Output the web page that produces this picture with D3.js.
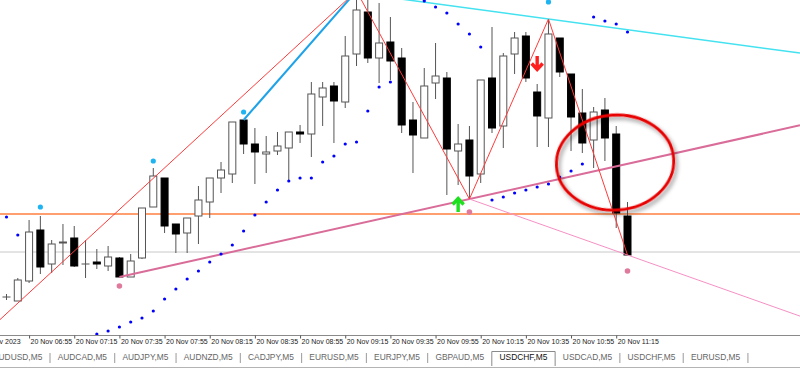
<!doctype html>
<html lang="en">
<head>
<meta charset="utf-8">
<title>USDCHF,M5</title>
<script src="https://d3js.org/d3.v7.min.js"></script>
<style>
  body { margin: 0; background: #fff; }
  svg { display: block; font-family: "Liberation Sans", Arial, sans-serif; }
</style>
</head>
<body>
<svg width="800" height="370"></svg>
<script>
// USDCHF M5 bars, 20 Nov 2023 06:45 .. 11:20
var opens = [.88403, .88399, .88419, .88470, .88436, .88457, .88462, .88436, .88438, .88434,
  .88442, .88423, .88442, .88493, .88522, .88476, .88467, .88484, .88498, .88522,
  .88526, .88580, .88556, .88546, .88549, .88552, .88568, .88566, .88603, .88614,
  .88598, .88646, .88688, .88642, .88658, .88642, .88580, .88562, .88617, .88622,
  .88549, .88560, .88526, .88622, .88574, .88646, .88664, .88608, .88582, .88662,
  .88626, .88587, .88560, .88590, .88566, .88484];
var highs = [.88406, .88422, .88480, .88484, .88460, .88476, .88474, .88460, .88451, .88454,
  .88443, .88446, .88492, .88532, .88522, .88476, .88482, .88514, .88522, .88538,
  .88578, .88580, .88572, .88564, .88568, .88568, .88575, .88618, .88618, .88618,
  .88664, .88709, .88700, .88697, .88683, .88652, .88598, .88632, .88657, .88628,
  .88576, .88574, .88620, .88673, .88647, .88668, .88668, .88616, .88681, .88662,
  .88626, .88611, .88593, .88602, .88574, .88498];
var lows = [.88400, .88399, .88417, .88426, .88427, .88435, .88433, .88422, .88431, .88429,
  .88423, .88423, .88441, .88493, .88467, .88447, .88447, .88456, .88482, .88507,
  .88517, .88546, .88516, .88527, .88545, .88518, .88557, .88543, .88574, .88557,
  .88592, .88634, .88637, .88617, .88620, .88567, .88527, .88562, .88601, .88505,
  .88515, .88501, .88517, .88567, .88552, .88626, .88618, .88553, .88553, .88623,
  .88549, .88547, .88532, .88539, .88472, .88445];
var closes = [.88403, .88420, .88468, .88433, .88456, .88458, .88434, .88436, .88436, .88443,
  .88423, .88439, .88492, .88524, .88474, .88466, .88482, .88500, .88522, .88530,
  .88578, .88556, .88548, .88548, .88554, .88568, .88566, .88606, .88612, .88599,
  .88644, .88690, .88642, .88657, .88639, .88575, .88565, .88614, .88624, .88551,
  .88556, .88524, .88620, .88572, .88644, .88662, .88622, .88584, .88666, .88628,
  .88583, .88557, .88588, .88562, .88487, .88445];

// parabolic SAR (null = outside the visible price range)
var sar = [.88483, .88465, null, null, null, null, null, null, .88366, .88369,
  .88373, .88378, .88382, .88389, .88401, .88411, .88421, .88429, .88438, .88446,
  .88455, .88469, .88485, .88498, .88510, .88519, .88522, .88522, .88538, .88544,
  .88556, .88558, .88589, .88613, .88618, null, null, .88699, .88693, .88687,
  .88676, .88666, .88653, .88500, .88503, .88507, .88510, .88513, .88516, .88523,
  .88529, .88536, .88683, .88679, .88676, .88668];

var fractalUpBars = [3, 13, 21, 48];
var fractalUpPrices = [.88493, .88539, .88588, .88698];
var fractalDownBars = [10, 41, 55];
var fractalDownPrices = [.88414, .88488, .88429];

var zigzagBars = [-1, 31, 41, 48, 55];
var zigzagPrices = [.88376, .88709, .88501, .88681, .88445];

var orangeLevel = .88486;
var bidLevel = .88448;

var timeLabels = ['20 Nov 2023', '20 Nov 06:55', '20 Nov 07:15', '20 Nov 07:35', '20 Nov 07:55',
  '20 Nov 08:15', '20 Nov 08:35', '20 Nov 08:55', '20 Nov 09:15', '20 Nov 09:35',
  '20 Nov 09:55', '20 Nov 10:15', '20 Nov 10:35', '20 Nov 10:55', '20 Nov 11:15'];
var timeLabelBars = [-2.4, 2, 6, 10, 14, 18, 22, 26, 30, 34, 38, 42, 46, 50, 54];

var tabs = ['AUDUSD,M5', 'AUDCAD,M5', 'AUDJPY,M5', 'AUDNZD,M5', 'CADJPY,M5', 'EURUSD,M5',
  'EURJPY,M5', 'GBPAUD,M5', 'USDCHF,M5', 'USDCAD,M5', 'USDCHF,M5', 'EURUSD,M5'];
var activeTab = 8;

var W = 800, plotH = 335;
var svg = d3.select('svg');

var x = d3.scaleLinear().domain([0, 55]).range([6.5, 627.5]);
var y = d3.scaleLinear().domain([0.88700, 0.88365]).range([0, plotH]);

var defs = svg.append('defs');
defs.append('clipPath').attr('id', 'plot')
  .append('rect').attr('x', 0).attr('y', 0).attr('width', W).attr('height', plotH);
var shadow = defs.append('filter').attr('id', 'shadow')
  .attr('x', '-20%').attr('y', '-20%').attr('width', '140%').attr('height', '140%');
shadow.append('feDropShadow').attr('dx', 2).attr('dy', 3).attr('stdDeviation', 2)
  .attr('flood-color', '#000').attr('flood-opacity', 0.45);

var plot = svg.append('g').attr('clip-path', 'url(#plot)');

// a line through two (bar, price) points, optionally run out to the right edge
var ray = function(b1, p1, b2, p2, extend){
  var x1 = x(b1), y1 = y(p1), x2 = x(b2), y2 = y(p2);
  if (extend) {
    var k = (y2 - y1) / (x2 - x1);
    y2 = y1 + k * (W - x1);
    x2 = W;
  }
  return [[x1, y1], [x2, y2]];
};

// horizontal levels
plot.append('line').attr('x1', 0).attr('x2', W)
  .attr('y1', y(bidLevel)).attr('y2', y(bidLevel))
  .style('stroke', '#c8c8c8').style('stroke-width', 1);
plot.append('line').attr('x1', 0).attr('x2', W)
  .attr('y1', y(orangeLevel)).attr('y2', y(orangeLevel))
  .style('stroke', '#ff7f3f').style('stroke-width', 1.3);

// candles
var bars = d3.range(opens.length);
var candle = plot.append('g').selectAll('g').data(bars).enter().append('g');
candle.append('line')
  .attr('x1', function(i){ return x(i); }).attr('x2', function(i){ return x(i); })
  .attr('y1', function(i){ return y(highs[i]); }).attr('y2', function(i){ return y(lows[i]); })
  .style('stroke', '#555').style('stroke-width', 1);
candle.append('rect')
  .attr('x', function(i){ return x(i) - 3.5; })
  .attr('width', 7)
  .attr('y', function(i){ return y(Math.max(opens[i], closes[i])); })
  .attr('height', function(i){ return Math.max(0.01, Math.abs(y(opens[i]) - y(closes[i]))); })
  .style('fill', function(i){ return closes[i] >= opens[i] ? '#fff' : '#000'; })
  .style('stroke', function(i){ return closes[i] >= opens[i] ? '#555' : '#000'; })
  .style('stroke-width', 1);

// trend lines
var lines = [
  { pts: ray(10, lows[10], 41, lows[41], true), color: '#d96c99', w: 2 },
  { pts: ray(41, lows[41], 55, lows[55], true), color: '#f590c4', w: 1 },
  { pts: ray(31, .88707, 48, highs[48], true), color: '#44e2f0', w: 1.5 },
  { pts: ray(21, highs[21], 31, highs[31], false), color: '#1ea2e8', w: 2 }
];
var lineGen = d3.line();
plot.selectAll('path.trend').data(lines).enter().append('path')
  .attr('class', 'trend')
  .attr('d', function(d){ return lineGen(d.pts); })
  .style('fill', 'none')
  .style('stroke', function(d){ return d.color; })
  .style('stroke-width', function(d){ return d.w; });

// zigzag
plot.append('path')
  .attr('d', d3.line()
    .x(function(i){ return x(zigzagBars[i]); })
    .y(function(i){ return y(zigzagPrices[i]); })(d3.range(zigzagBars.length)))
  .style('fill', 'none').style('stroke', '#ff3b3b').style('stroke-width', 1);

// parabolic SAR dots
plot.append('g').selectAll('circle')
  .data(bars.filter(function(i){ return sar[i] !== null; }))
  .enter().append('circle')
  .attr('cx', function(i){ return x(i); })
  .attr('cy', function(i){ return y(sar[i]); })
  .attr('r', 1.6)
  .style('fill', '#0000ff');

// fractal dots
plot.append('g').selectAll('circle')
  .data(fractalUpBars).enter().append('circle')
  .attr('cx', function(b){ return x(b); })
  .attr('cy', function(b, i){ return y(fractalUpPrices[i]); })
  .attr('r', 2.6).style('fill', '#1eb4f2');
plot.append('g').selectAll('circle')
  .data(fractalDownBars).enter().append('circle')
  .attr('cx', function(b){ return x(b); })
  .attr('cy', function(b, i){ return y(fractalDownPrices[i]); })
  .attr('r', 2.8).style('fill', '#e07a9c');

// signal arrows: sell above bar 47, buy below bar 40
var arrow = function(bar, price, dir, color){
  var cx = x(bar), tip = y(price);
  var p = d3.path();
  p.moveTo(cx, tip - dir * 14); p.lineTo(cx, tip - dir * 1.5);
  p.moveTo(cx - 5.5, tip - dir * 6.5); p.lineTo(cx, tip - dir * 0.5); p.lineTo(cx + 5.5, tip - dir * 6.5);
  plot.append('path').attr('d', p.toString())
    .style('fill', 'none').style('stroke', color).style('stroke-width', 3.4)
    .style('stroke-linejoin', 'miter');
};
arrow(47, .88630, 1, '#ff1e1e');
arrow(40, .88502, -1, '#1ee01e');

// highlight ellipse around the breakout
var ex0 = x(48.7), ex1 = x(59.1), ey0 = y(.88585), ey1 = y(.88490);
plot.append('ellipse')
  .attr('cx', (ex0 + ex1) / 2).attr('cy', (ey0 + ey1) / 2)
  .attr('rx', (ex1 - ex0) / 2).attr('ry', (ey1 - ey0) / 2)
  .attr('transform', 'rotate(-4,' + (ex0 + ex1) / 2 + ',' + (ey0 + ey1) / 2 + ')')
  .style('fill', 'none').style('stroke', '#e80000').style('stroke-width', 2.8)
  .attr('filter', 'url(#shadow)');

// time axis
svg.append('line').attr('x1', 0).attr('x2', W).attr('y1', plotH + 0.5).attr('y2', plotH + 0.5)
  .style('stroke', '#8a8a8a');
var axis = d3.axisBottom(x)
  .tickValues(timeLabelBars)
  .tickFormat(function(d, i){ return timeLabels[i]; })
  .tickSize(3).tickPadding(1);
var ax = svg.append('g').attr('transform', 'translate(0,' + (plotH + 0.5) + ')').call(axis);
ax.select('.domain').remove();
ax.selectAll('.tick line').style('stroke', '#555');
ax.selectAll('.tick text')
  .attr('text-anchor', 'start').attr('x', 1)
  .style('font-family', '"Liberation Sans", Arial, sans-serif')
  .style('font-size', '7px').style('fill', '#222');

// symbol tabs
var tabY = 360, sep0 = 50, pad = 7.7;
var tabG = svg.append('g').style('font-size', '8.4px');
tabG.append('text').attr('x', sep0 - pad).attr('y', tabY)
  .attr('text-anchor', 'end').style('fill', '#666').text(tabs[0]);
var cursor = sep0;
var seps = [sep0];
for (var t = 1; t < tabs.length; t++) {
  var txt = tabG.append('text').attr('x', cursor + pad).attr('y', tabY)
    .style('fill', t === activeTab ? '#111' : '#666').text(tabs[t]);
  var next = cursor + pad + txt.node().getComputedTextLength() + pad;
  if (t === activeTab) {
    tabG.insert('path', 'text')
      .attr('d', 'M' + cursor + ',' + (tabY + 6) + 'V' + (tabY - 8.5) + 'H' + next + 'V' + (tabY + 6))
      .style('fill', '#fff').style('stroke', '#8a8a8a');
  }
  cursor = next;
  seps.push(cursor);
}
seps.forEach(function(s, i){
  if (i === activeTab - 1 || i === activeTab) return;
  tabG.append('line').attr('x1', s).attr('x2', s).attr('y1', tabY - 7).attr('y2', tabY + 3)
    .style('stroke', '#9a9a9a');
});

// status bar strip
svg.append('line').attr('x1', 0).attr('x2', W).attr('y1', 367.5).attr('y2', 367.5)
  .style('stroke', '#b4b4b4');
</script>
</body>
</html>
